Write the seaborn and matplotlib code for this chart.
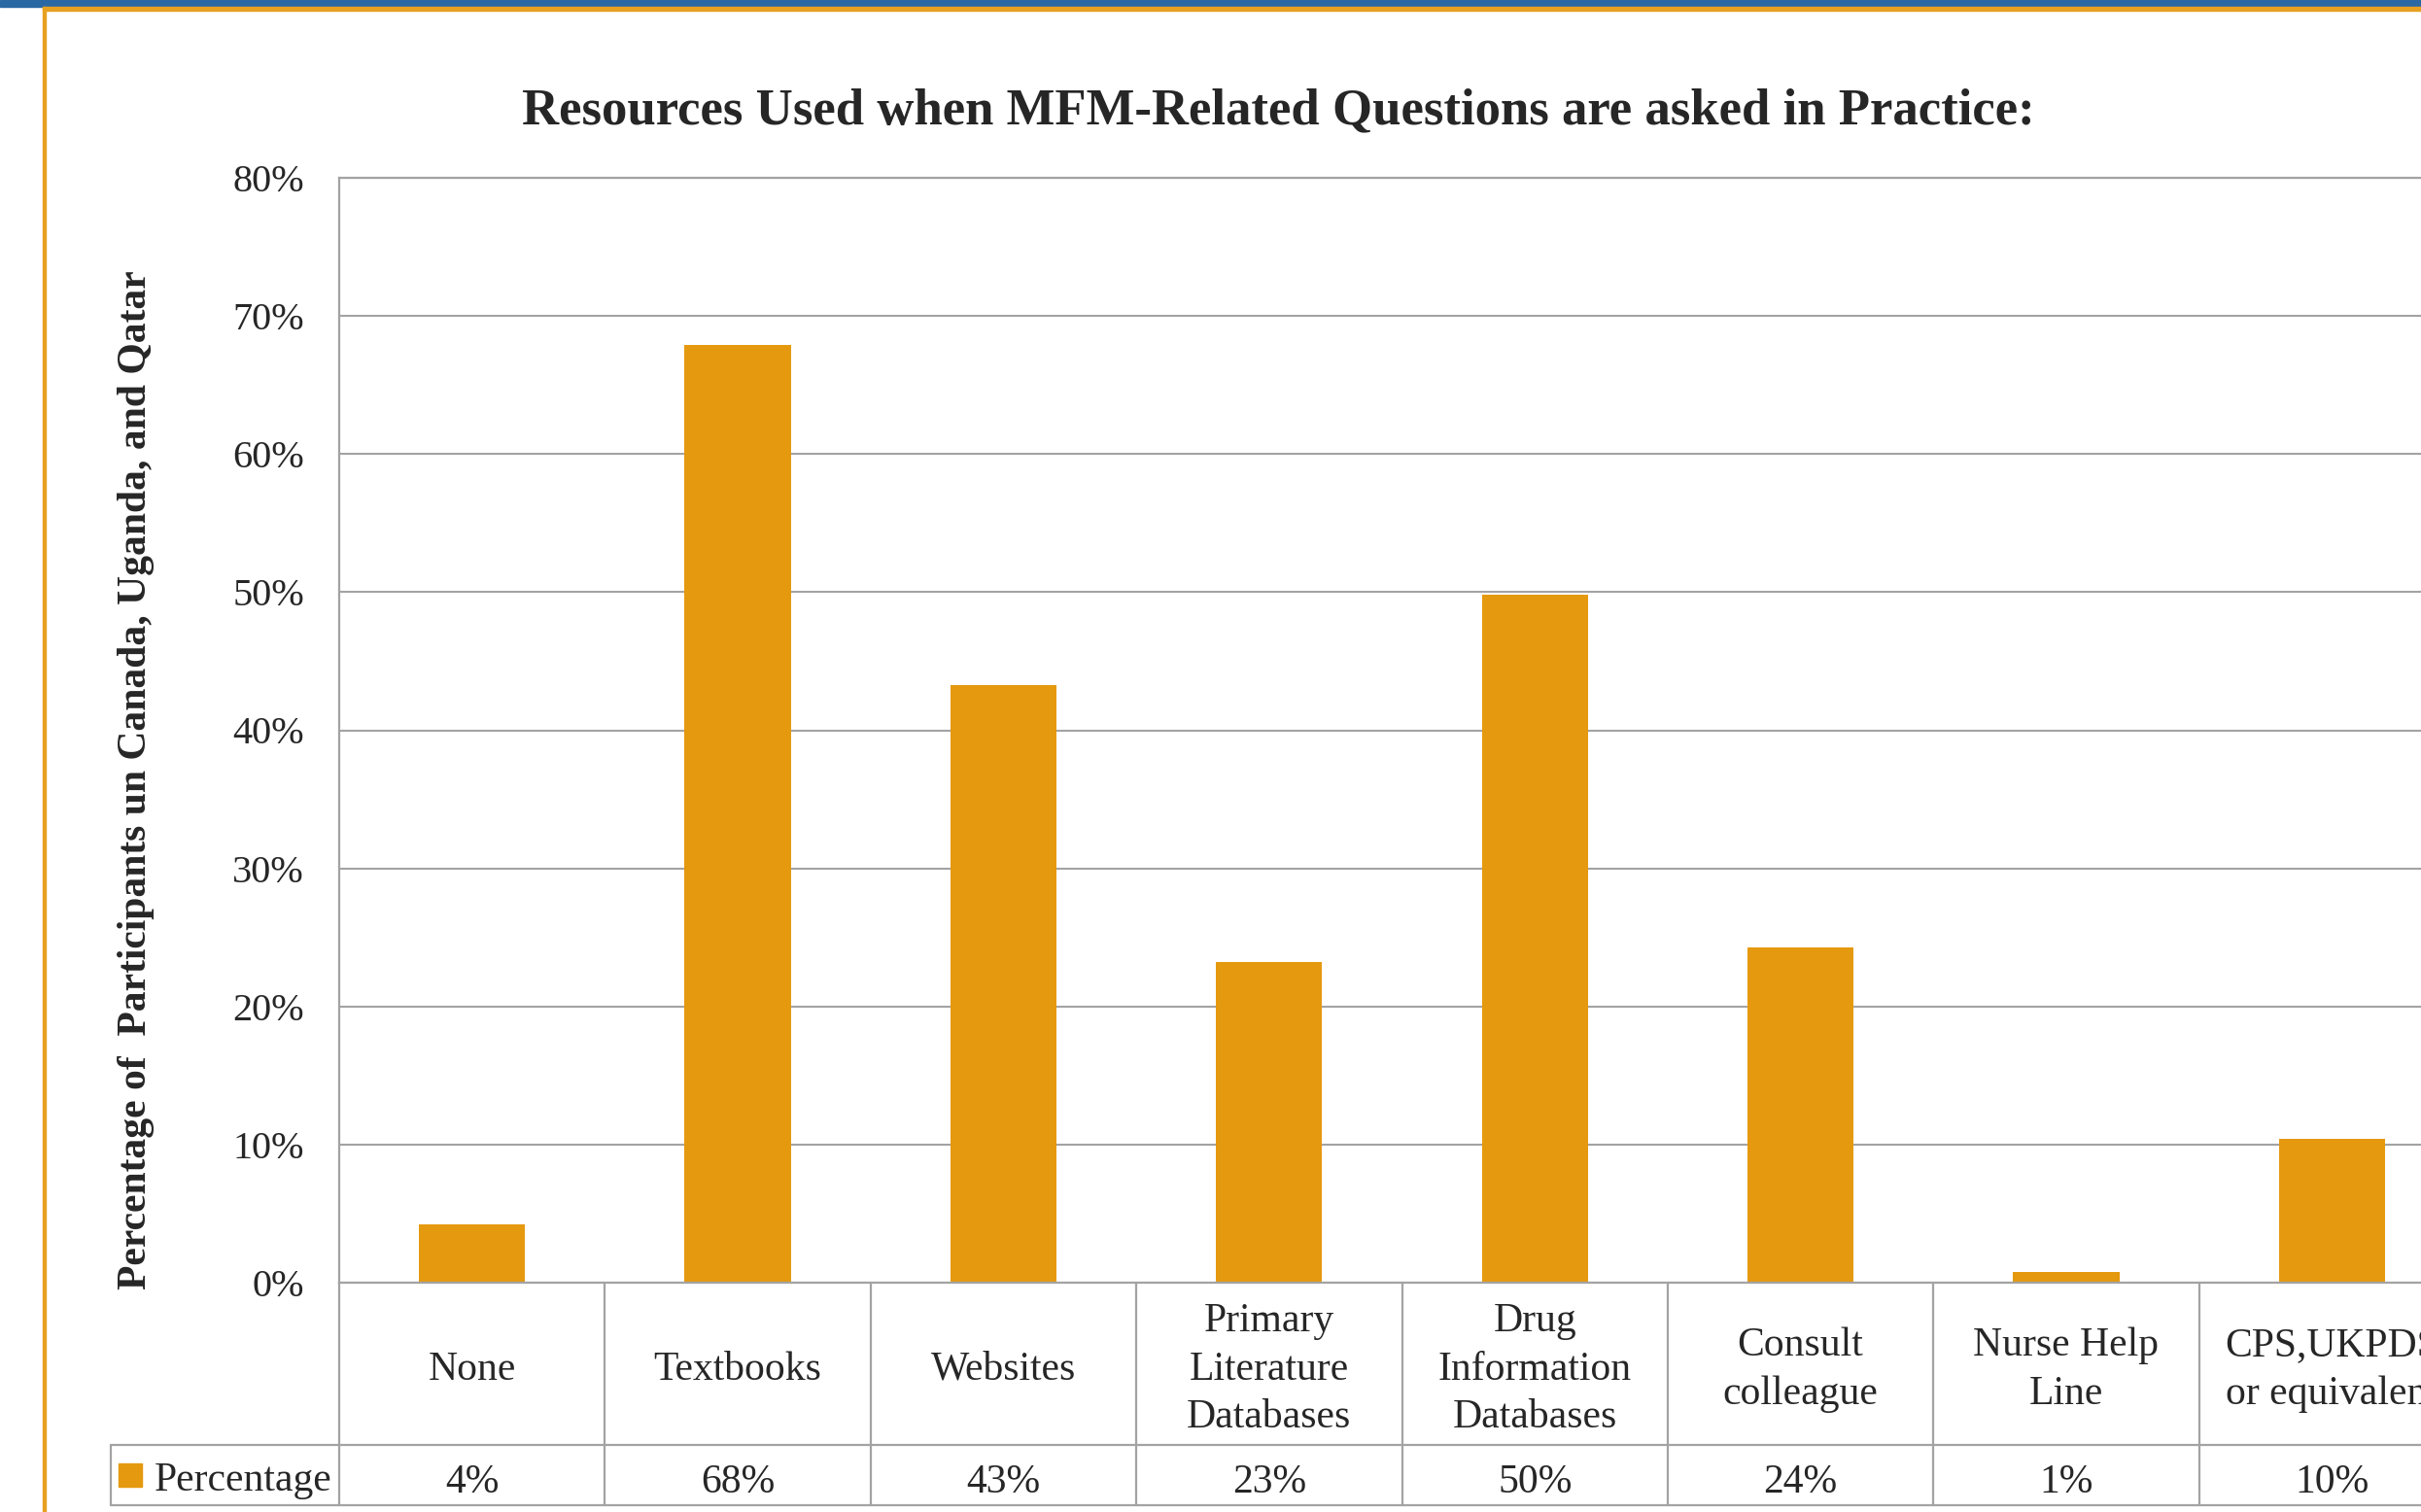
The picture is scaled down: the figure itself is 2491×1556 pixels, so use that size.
import matplotlib
matplotlib.use("Agg")
import matplotlib.pyplot as plt
import seaborn as sns
import pandas as pd
from matplotlib.patches import Rectangle
from matplotlib.ticker import PercentFormatter

categories = ["None", "Textbooks", "Websites", "Primary\nLiterature\nDatabases",
              "Drug\nInformation\nDatabases", "Consult\ncolleague", "Nurse Help\nLine",
              "CPS,UKPDS\nor equivalent"]
values = [4.25, 67.9, 43.3, 23.2, 49.8, 24.3, 0.8, 10.4]
value_labels = ["4%", "68%", "43%", "23%", "50%", "24%", "1%", "10%"]
yticks = [0, 10, 20, 30, 40, 50, 60, 70, 80]
title = "Resources Used when MFM-Related Questions are asked in Practice:"
ylabel = "Percentage of  Participants un Canada, Uganda, and Qatar"
series_name = "Percentage"

sns.set_style("white")
plt.rcParams["font.family"] = ["Liberation Serif", "DejaVu Serif"]

W, H = 2491, 1556
fig = plt.figure(figsize=(W / 100, H / 100), dpi=100)
fig.patch.set_facecolor("white")

# axes geometry (pixels)
L, R, T, B = 349, 2536, 183, 1320
ax = fig.add_axes([L / W, 1 - B / H, (R - L) / W, (B - T) / H])

BAR = "#E5990F"
GRID = "#A3A3A3"
df = pd.DataFrame({"cat": categories, "val": values})
sns.barplot(data=df, x="cat", y="val", color=BAR, width=0.4, ax=ax,
            saturation=1, edgecolor="none")

ax.set_xlim(-0.5, len(categories) - 0.5)
ax.set_ylim(0, 80)
ax.set_yticks(yticks)
ax.yaxis.set_major_formatter(PercentFormatter(decimals=0))
ax.tick_params(axis="y", length=0, pad=26, labelsize=29)
ax.set_xticks([])
ax.set_xlabel("")
ax.set_ylabel("")
ax.grid(axis="y", color=GRID, linewidth=1.5)
ax.set_axisbelow(True)
ax.spines["right"].set_visible(False)
for s in ["top", "left", "bottom"]:
    ax.spines[s].set_color(GRID)
    ax.spines[s].set_linewidth(1.6)

xt = ax.get_xaxis_transform()
axh = B - T
y_hdr_bot = -(1487 - B) / axh
y_val_bot = -(1549 - B) / axh
x_leg = -0.5 - (L - 114) / ((R - L) / len(categories))

# table lines
for i in range(len(categories) + 1):
    x = i - 0.5
    ax.plot([x, x], [0, y_val_bot], transform=xt, color=GRID, lw=1.6, clip_on=False)
ax.plot([x_leg, x_leg], [y_hdr_bot, y_val_bot], transform=xt, color=GRID, lw=1.6, clip_on=False)
for yy in [y_hdr_bot, y_val_bot]:
    ax.plot([x_leg, len(categories) - 0.5], [yy, yy], transform=xt, color=GRID, lw=1.6, clip_on=False)

y_hdr_mid = y_hdr_bot / 2 - 6 / axh
y_val_mid = (y_hdr_bot + y_val_bot) / 2 - 8 / axh
for i, (c, v) in enumerate(zip(categories, value_labels)):
    ax.text(i, y_hdr_mid, c, transform=xt, ha="center", va="center", fontsize=30,
            linespacing=1.38, clip_on=False)
    ax.text(i, y_val_mid, v, transform=xt, ha="center", va="center", fontsize=30,
            clip_on=False)

# legend cell
fig.patches.append(Rectangle((122 / W, 1 - 1530 / H), 24 / W, 24 / H,
                             transform=fig.transFigure, color=BAR))
fig.text(159 / W, 1 - 1524 / H, series_name, ha="left", va="center", fontsize=30)

fig.text(1315 / W, 1 - 114 / H, title, ha="center", va="center",
         fontsize=38, fontweight="bold")
fig.text(140 / W, 1 - 803 / H, ylabel, ha="center", va="center",
         rotation=90, fontsize=30, fontweight="bold")

# slide decorations
fig.patches.append(Rectangle((0, 1 - 7 / H), 1, 7 / H, transform=fig.transFigure,
                             color="#2A68A4"))
fig.patches.append(Rectangle((44 / W, 0), 3 / W, 1 - 7 / H, transform=fig.transFigure,
                             color="#E8A020"))
fig.patches.append(Rectangle((44 / W, 1 - 11 / H), 1, 4 / H, transform=fig.transFigure,
                             color="#E8A020"))

fig.savefig("out.png", dpi=100)
